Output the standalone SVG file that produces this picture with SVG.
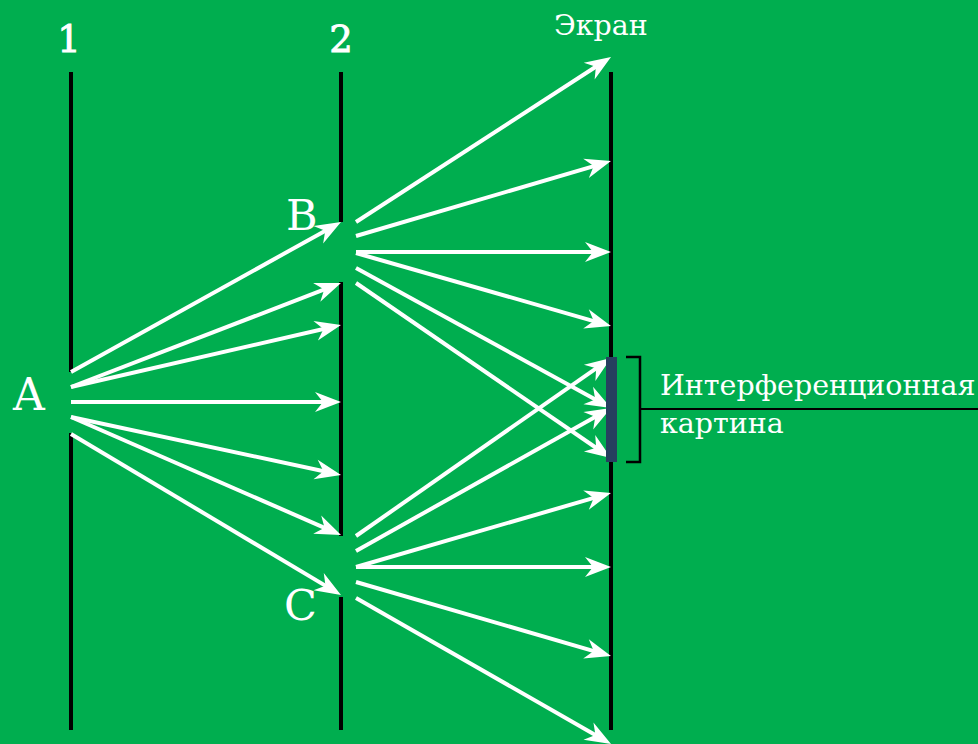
<svg xmlns="http://www.w3.org/2000/svg" width="978" height="744" viewBox="0 0 978 744">
<style>
.bg{fill:#00ae4f}
.bar{stroke:#000;stroke-width:4;fill:none}
.ray{stroke:#fff;stroke-width:4;fill:none;marker-end:url(#ah)}
.lbl{fill:#fff;font-family:'DejaVu Serif','Liberation Serif',serif}
.num{stroke:#fff;stroke-width:0.9}
.thin{stroke:#000;stroke-width:2.5;fill:none}
</style>
<defs>
<marker id="ah" markerUnits="userSpaceOnUse" markerWidth="32" markerHeight="26" viewBox="-20 -13 32 26" refX="0" refY="0" orient="auto">
<path d="M8,0 L-18,-10 L-10,0 L-18,10 Z" fill="#fff"/>
</marker>
</defs>
<rect class="bg" x="0" y="0" width="978" height="744"/>

<g id="barrier1">
<line class="bar" x1="71" y1="72" x2="71" y2="372"/>
<line class="bar" x1="71" y1="433" x2="71" y2="730"/>
<text class="lbl num" x="69" y="52" font-size="37" text-anchor="middle" font-family="DejaVu Serif, serif">1</text>
</g>

<g id="barrier2">
<line class="bar" x1="341" y1="72" x2="341" y2="222"/>
<line class="bar" x1="341" y1="282" x2="341" y2="536"/>
<line class="bar" x1="341" y1="597" x2="341" y2="730"/>
<text class="lbl num" x="341" y="52" font-size="37" text-anchor="middle" font-family="DejaVu Serif, serif">2</text>
</g>

<g id="screen">
<line class="bar" x1="611" y1="72" x2="611" y2="730"/>
<text class="lbl" x="554" y="35" font-size="28.5" font-family="DejaVu Serif, serif">Экран</text>
</g>

<g id="source-A">
<text class="lbl" x="13" y="410" font-size="44" font-family="DejaVu Serif, serif">A</text>
</g>
<g id="slit-B">
<text class="lbl" x="286" y="230" font-size="43" font-family="DejaVu Serif, serif">B</text>
</g>
<g id="slit-C">
<text class="lbl" x="284" y="620" font-size="43" font-family="DejaVu Serif, serif">C</text>
</g>

<g id="connectors">
<line class="ray" x1="71" y1="372" x2="334.0" y2="225.9"/>
<line class="ray" x1="71" y1="387" x2="333.5" y2="285.9"/>
<line class="ray" x1="71" y1="387" x2="333.2" y2="326.8"/>
<line class="ray" x1="71" y1="402" x2="333" y2="402"/>
<line class="ray" x1="71" y1="417" x2="333.2" y2="473.3"/>
<line class="ray" x1="71" y1="417" x2="333.7" y2="531.8"/>
<line class="ray" x1="71" y1="434" x2="334.1" y2="590.9"/>

<line class="ray" x1="356" y1="222" x2="604.3" y2="61.3"/>
<line class="ray" x1="356" y1="236" x2="603.3" y2="163.3"/>
<line class="ray" x1="356" y1="252" x2="603" y2="252"/>
<line class="ray" x1="356" y1="253" x2="603.3" y2="323.8"/>
<line class="ray" x1="356" y1="268" x2="604.0" y2="404.2"/>
<line class="ray" x1="356" y1="283" x2="604.4" y2="453.5"/>

<line class="ray" x1="356" y1="536" x2="604.4" y2="362.6"/>
<line class="ray" x1="356" y1="551" x2="604.0" y2="411.9"/>
<line class="ray" x1="356" y1="567" x2="603.3" y2="495.2"/>
<line class="ray" x1="356" y1="567" x2="603" y2="567"/>
<line class="ray" x1="356" y1="582" x2="603.3" y2="653.8"/>
<line class="ray" x1="356" y1="598" x2="604.1" y2="740.0"/>
</g>

<g id="interference-pattern">
<rect x="606" y="357" width="11" height="105" fill="#263f5f"/>
<path class="thin" d="M626,357 H640 V462 H626"/>
<line x1="640" y1="409" x2="978" y2="409" stroke="#000" stroke-width="2"/>
<text class="lbl" x="660" y="395" font-size="28.5" font-family="DejaVu Serif, serif">Интерференционная</text>
<text class="lbl" x="660" y="433" font-size="28.5" font-family="DejaVu Serif, serif">картина</text>
</g>
</svg>
